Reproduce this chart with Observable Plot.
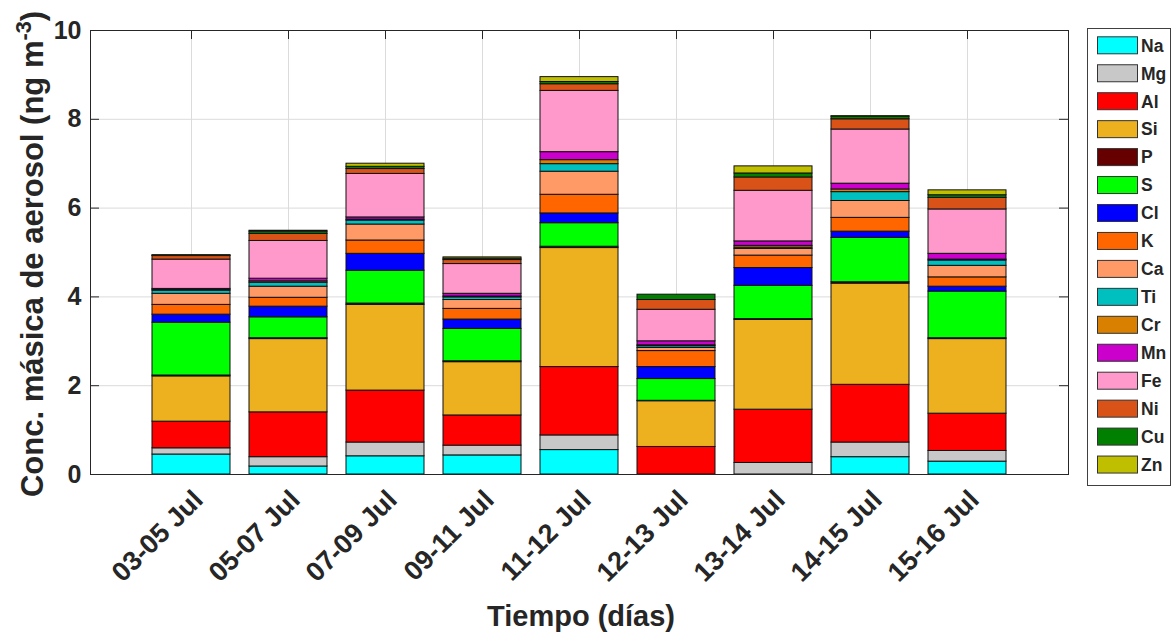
<!DOCTYPE html>
<html><head><meta charset="utf-8">
<script src="https://cdn.jsdelivr.net/npm/d3@7"></script>
<script src="https://cdn.jsdelivr.net/npm/@observablehq/plot@0.6"></script>
<style>body{margin:0;background:#fff}</style>
</head><body><div id="chart"></div>
<script>
// ---- data ----
const dates = ["03-05 Jul","05-07 Jul","07-09 Jul","09-11 Jul","11-12 Jul","12-13 Jul","13-14 Jul","14-15 Jul","15-16 Jul"];
const elements = ["Na","Mg","Al","Si","P","S","Cl","K","Ca","Ti","Cr","Mn","Fe","Ni","Cu","Zn"];
const colors = ["#00FFFF","#C8C8C8","#FF0000","#EDB120","#660000","#00FF00","#0000FF","#FF6600","#FF9966","#00BFBF","#D98000","#CC00CC","#FF99CC","#D95319","#007F00","#BFBF00"];
const Na = [0.45,0.18,0.41,0.43,0.55,0.00,0.00,0.39,0.29];
const Mg = [0.14,0.21,0.31,0.22,0.33,0.00,0.26,0.33,0.24];
const Al = [0.60,1.01,1.17,0.68,1.54,0.62,1.20,1.30,0.84];
const Si = [1.02,1.65,1.93,1.20,2.68,1.03,2.02,2.28,1.68];
const P  = [0.02,0.02,0.03,0.02,0.03,0.01,0.02,0.03,0.02];
const S  = [1.19,0.47,0.74,0.73,0.53,0.49,0.75,1.00,1.05];
const Cl = [0.18,0.24,0.38,0.21,0.22,0.27,0.40,0.14,0.11];
const K  = [0.22,0.20,0.30,0.24,0.42,0.36,0.28,0.31,0.21];
const Ca = [0.25,0.25,0.36,0.20,0.52,0.07,0.15,0.38,0.26];
const Ti = [0.07,0.09,0.09,0.06,0.17,0.04,0.03,0.20,0.12];
const Cr = [0.02,0.03,0.02,0.02,0.09,0.02,0.04,0.06,0.02];
const Mn = [0.02,0.06,0.05,0.06,0.18,0.09,0.10,0.13,0.13];
const Fe = [0.66,0.85,0.98,0.67,1.38,0.71,1.14,1.22,1.00];
const Ni = [0.08,0.16,0.11,0.09,0.15,0.22,0.30,0.23,0.26];
const Cu = [0.01,0.05,0.05,0.03,0.05,0.12,0.09,0.06,0.06];
const Zn = [0.01,0.02,0.07,0.03,0.11,0.00,0.16,0.01,0.11];
const yTicks = [0,2,4,6,8,10];
const series = {Na,Mg,Al,Si,P,S,Cl,K,Ca,Ti,Cr,Mn,Fe,Ni,Cu,Zn};
const data = [];
dates.forEach((d,i) => elements.forEach(e => data.push({date:d, element:e, value:series[e][i]})));

// ---- layout ----
const FONT = "'Liberation Sans', Arial, Helvetica, sans-serif";
const INK = "#262626";
const W = 1173, H = 634, ML = 90, MR = 105, MT = 30, MB = 160;
const pw = W - ML - MR, ph = H - MT - MB;

const plot = Plot.plot({
  width: W, height: H, marginLeft: ML, marginRight: MR, marginTop: MT, marginBottom: MB,
  style: {fontFamily: FONT, background: "#fff", color: INK, overflow: "visible"},
  x: {domain: dates, paddingInner: 0.2, paddingOuter: 0.6, axis: null},
  y: {domain: [0, 10], axis: null},
  color: {domain: elements, range: colors},
  marks: [
    Plot.gridY(yTicks, {stroke: "#dbdbdb", strokeOpacity: 1}),
    Plot.gridX(dates, {stroke: "#dbdbdb", strokeOpacity: 1}),
    Plot.ruleY(yTicks, {y: d => d, insetRight: pw - 9, stroke: INK}),
    Plot.ruleY(yTicks, {y: d => d, insetLeft: pw - 9, stroke: INK}),
    Plot.ruleX(dates, {x: d => d, insetTop: ph - 9, stroke: INK}),
    Plot.ruleX(dates, {x: d => d, insetBottom: ph - 9, stroke: INK}),
    Plot.barY(data, {x: "date", y: "value", fill: "element", stroke: "#111", strokeWidth: 1}),
    Plot.frame({stroke: INK, strokeWidth: 1}),
    Plot.text(yTicks, {y: d => d, text: d => String(d), frameAnchor: "left", textAnchor: "end", dx: -9, fontSize: 25, fontWeight: "bold", fill: INK}),
    Plot.text(dates, {x: d => d, text: d => d, frameAnchor: "bottom", textAnchor: "end", rotate: -45, dx: 13, dy: 27, fontSize: 27, fontWeight: "bold", fill: INK})
  ]
});
document.getElementById("chart").appendChild(plot);

// ---- axis titles & legend ----
const svg = d3.select(plot);
const yl = svg.append("text")
  .attr("transform", `translate(43,${MT + ph/2 + 2}) rotate(-90)`)
  .attr("text-anchor", "middle")
  .attr("font-family", FONT).attr("font-weight", "bold").attr("font-size", 31).attr("fill", INK);
yl.append("tspan").text("Conc. másica de aerosol (ng m");
yl.append("tspan").attr("dy", "-0.55em").attr("font-size", "70%").text("-3");
yl.append("tspan").attr("dy", "0.4em").text(")");

svg.append("text")
  .attr("x", ML + pw/2 + 2).attr("y", 626)
  .attr("text-anchor", "middle")
  .attr("font-family", FONT).attr("font-weight", "bold").attr("font-size", 29).attr("fill", INK)
  .text("Tiempo (días)");

const color = plot.scale("color");
const lg = svg.append("g");
lg.append("rect").attr("x", 1087.5).attr("y", 28.5).attr("width", 83).attr("height", 457)
  .attr("fill", "#fff").attr("stroke", "#404040").attr("stroke-width", 1);
const step = 27.95, y0 = 45.3;
elements.forEach((e, i) => {
  const cy = y0 + i * step;
  lg.append("rect").attr("x", 1097.5).attr("y", cy - 8.5).attr("width", 40).attr("height", 17)
    .attr("fill", color.apply(e)).attr("stroke", "#333").attr("stroke-width", 1);
  lg.append("text").attr("x", 1141).attr("y", cy).attr("dy", "0.36em")
    .attr("text-anchor", "start")
    .attr("font-family", FONT).attr("font-weight", "bold").attr("font-size", 17.5).attr("fill", INK)
    .text(e);
});
</script>
</body></html>
